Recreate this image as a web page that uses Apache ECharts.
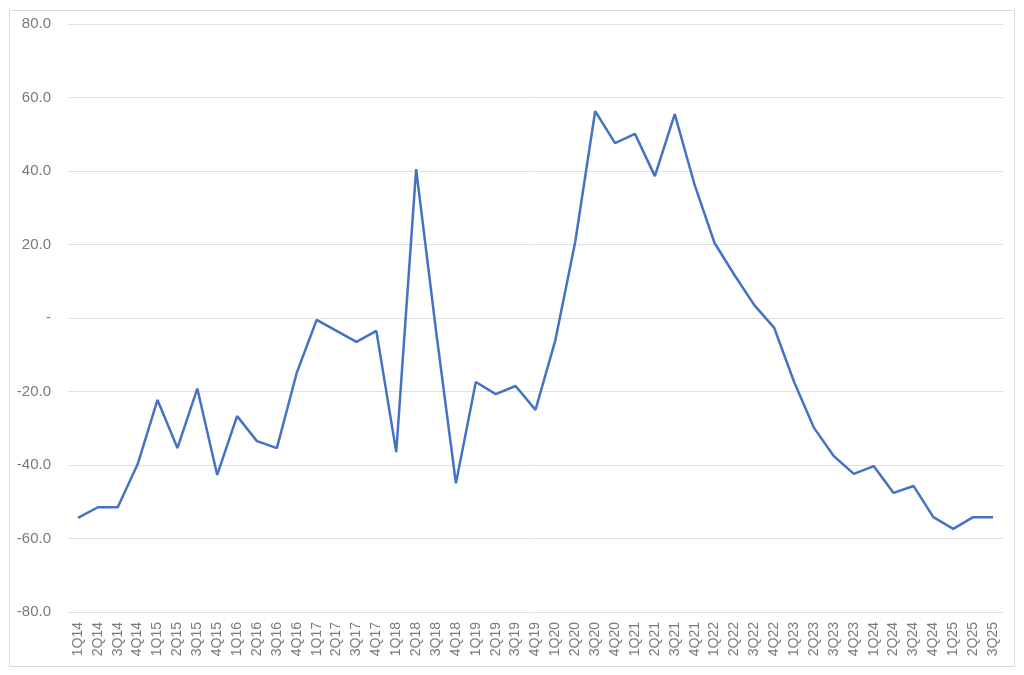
<!DOCTYPE html>
<html>
<head>
<meta charset="utf-8">
<script src="https://cdn.jsdelivr.net/npm/echarts@6/dist/echarts.min.js"></script>
<style>
  html, body { margin: 0; padding: 0; background: #fff; }
  #chart { width: 1024px; height: 675px; }
</style>
</head>
<body>
<div id="chart"></div>
<script>
// quarters 1Q14 .. 3Q25
var quarters = [
  '1Q14', '2Q14', '3Q14', '4Q14',
  '1Q15', '2Q15', '3Q15', '4Q15',
  '1Q16', '2Q16', '3Q16', '4Q16',
  '1Q17', '2Q17', '3Q17', '4Q17',
  '1Q18', '2Q18', '3Q18', '4Q18',
  '1Q19', '2Q19', '3Q19', '4Q19',
  '1Q20', '2Q20', '3Q20', '4Q20',
  '1Q21', '2Q21', '3Q21', '4Q21',
  '1Q22', '2Q22', '3Q22', '4Q22',
  '1Q23', '2Q23', '3Q23', '4Q23',
  '1Q24', '2Q24', '3Q24', '4Q24',
  '1Q25', '2Q25', '3Q25'
];

var values = [
  -54.4, -51.5, -51.5, -39.8,
  -22.3, -35.4, -19.2, -42.7,
  -26.7, -33.5, -35.4, -14.9,
  -0.5, -3.5, -6.5, -3.5,
  -36.5, 40.5, -3.5, -45.0,
  -17.4, -20.7, -18.5, -25.0,
  -6.0, 20.8, 56.3, 47.6,
  50.1, 38.6, 55.5, 36.2,
  20.4, 11.7, 3.5, -2.7,
  -17.4, -29.9, -37.6, -42.4,
  -40.3, -47.6, -45.7, -54.2,
  -57.4, -54.2, -54.2
];

var yMin = -80, yMax = 80, yStep = 20;

var chart = echarts.init(document.getElementById('chart'));

var option = {
  animation: false,
  backgroundColor: '#ffffff',
  grid: { left: 68, right: 21, top: 24, bottom: 63 },
  graphic: [{
    type: 'rect',
    shape: { x: 9.5, y: 10.5, width: 1005, height: 656 },
    style: { fill: 'none', stroke: '#d9d9d9', lineWidth: 1 },
    silent: true
  }],
  xAxis: {
    type: 'category',
    data: quarters,
    boundaryGap: true,
    axisLine: { show: true, lineStyle: { color: '#e0e0e0', width: 1 } },
    axisTick: { show: false },
    axisLabel: {
      interval: 0,
      rotate: 90,
      margin: 10,
      color: '#7a7a7a',
      fontFamily: 'Liberation Sans, Arial, sans-serif',
      fontSize: 14
    },
    splitLine: { show: false }
  },
  yAxis: {
    type: 'value',
    min: yMin,
    max: yMax,
    interval: yStep,
    axisLine: { show: false },
    axisTick: { show: false },
    axisLabel: {
      margin: 17,
      color: '#7a7a7a',
      fontFamily: 'Liberation Sans, Arial, sans-serif',
      fontSize: 15,
      formatter: function (v) {
        return v === 0 ? '-' : v.toFixed(1);
      }
    },
    splitLine: { lineStyle: { color: '#e0e0e0', width: 1 } }
  },
  series: [{
    type: 'line',
    data: values,
    symbol: 'none',
    lineStyle: { color: '#4472c4', width: 2.5 },
    itemStyle: { color: '#4472c4' }
  }]
};

chart.setOption(option);
</script>
</body>
</html>
